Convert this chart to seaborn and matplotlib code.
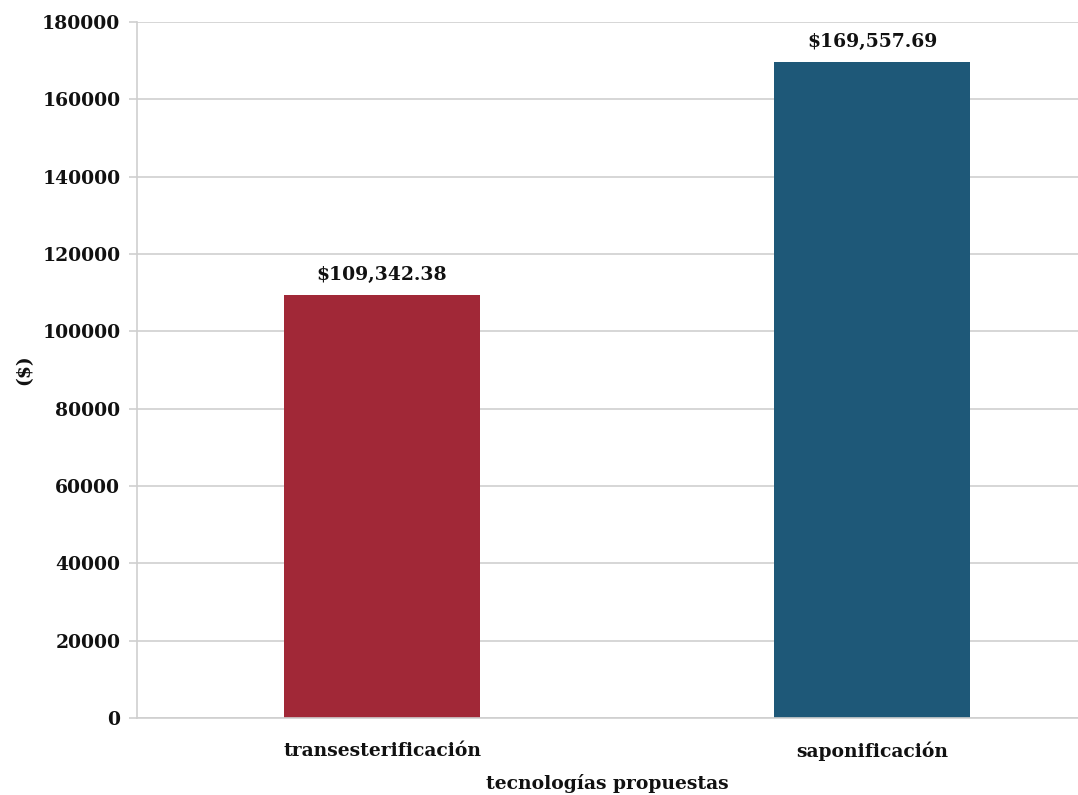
import matplotlib
matplotlib.use("Agg")
import matplotlib.pyplot as plt
import seaborn as sns
import pandas as pd

categories = ["transesterificación", "saponificación"]
values = [109342.38, 169557.69]
labels = ["$109,342.38", "$169,557.69"]
colors = ["#A12837", "#1E5878"]
yticks = [0, 20000, 40000, 60000, 80000, 100000, 120000, 140000, 160000, 180000]

sns.set_style("white")
plt.rcParams['font.family'] = ['DejaVu Serif']
plt.rcParams['font.weight'] = 'bold'

df = pd.DataFrame({"tec": categories, "val": values})

fig = plt.figure(figsize=(10.78, 7.95), dpi=100)
ax = fig.add_axes([137/1078, 1 - 718/795, 1 - 137/1078, (718 - 22)/795])

sns.barplot(data=df, x="tec", y="val", hue="tec", palette=colors, legend=False,
            width=0.4, ax=ax, saturation=1, edgecolor='none')

ax.set_xlim(-0.5, 1.42)
ax.set_ylim(0, 180000)
ax.set_yticks(yticks)
ax.set_yticklabels([str(t) for t in yticks], fontsize=13.5, fontweight='bold', color='#111111')
ax.yaxis.grid(True, color='#d0d0d0', linewidth=1.2)
ax.set_axisbelow(True)

for s in ["top", "right"]:
    ax.spines[s].set_visible(False)
for s in ["left", "bottom"]:
    ax.spines[s].set_color('#cfcfcf')
    ax.spines[s].set_linewidth(1.2)

ax.tick_params(axis='y', which='major', left=True, length=6, color='#cfcfcf', width=1.2, pad=6)
ax.tick_params(axis='x', length=0, pad=17)
for t in ax.get_xticklabels():
    t.set_fontsize(13.5)
    t.set_fontweight('bold')
    t.set_color('#111111')

for i, (v, lab) in enumerate(zip(values, labels)):
    ax.annotate(lab, (i, v), xytext=(0, 8), textcoords='offset points',
                ha='center', va='bottom', fontsize=13.5, fontweight='bold', color='#111111')

ax.set_xlabel("tecnologías propuestas", fontsize=13.5, fontweight='bold', color='#111111', labelpad=9)
ax.set_ylabel("($)", fontsize=13.5, fontweight='bold', color='#111111', labelpad=6)

fig.savefig("out.png", dpi=100)
